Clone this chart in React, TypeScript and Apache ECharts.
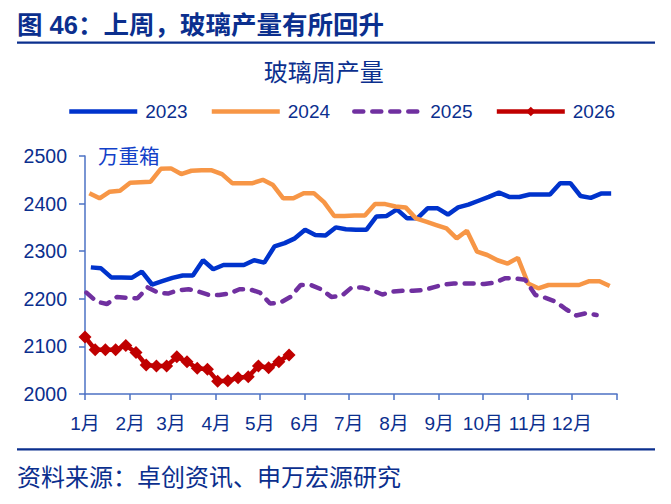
import React, { useEffect, useRef } from "react";
import * as echarts from "echarts";

// Day-of-year on which each month starts (non-leap calendar), plus year end.
const MONTH_START_DAYS = [0, 31, 59, 90, 120, 151, 181, 212, 243, 273, 304, 334, 365];
const MONTH_LABELS = ["1月", "2月", "3月", "4月", "5月", "6月", "7月", "8月", "9月", "10月", "11月", "12月"];

const SERIES_NAMES = ["2023", "2024", "2025", "2026"];

// Weekly glass output (万重箱), one value per weekly release.
// First release day of each year, counted from 1 January.
const START_DAY_2023 = 4;
const START_DAY_2024 = 3;
const START_DAY_2025 = 1;
const START_DAY_2026 = 0;

const OUTPUT_2023 = [
  2266, 2264, 2245, 2245, 2244, 2257, 2230, 2237, 2244, 2249, 2249, 2281, 2262,
  2271, 2271, 2271, 2281, 2276, 2310, 2317, 2327, 2345, 2334, 2333, 2350, 2346,
  2345, 2345, 2373, 2374, 2388, 2369, 2369, 2390, 2390, 2377, 2392, 2398, 2406,
  2414, 2423, 2414, 2414, 2419, 2419, 2419, 2443, 2443, 2416, 2412, 2421, 2421,
];

const OUTPUT_2024 = [
  2422, 2411, 2425, 2427, 2444, 2445, 2446, 2473, 2474, 2462, 2469, 2470, 2470,
  2462, 2443, 2443, 2443, 2450, 2439, 2411, 2411, 2422, 2422, 2403, 2374, 2374,
  2375, 2375, 2399, 2399, 2394, 2392, 2369, 2362, 2355, 2348, 2327, 2343, 2299,
  2292, 2281, 2274, 2286, 2232, 2222, 2229, 2229, 2229, 2229, 2237, 2237, 2227,
];

const OUTPUT_2025 = [
  2213, 2194, 2189, 2204, 2202, 2201, 2224, 2213, 2211, 2218, 2220, 2215, 2208,
  2208, 2211, 2220, 2220, 2213, 2190, 2192, 2204, 2229, 2229, 2220, 2204, 2206,
  2224, 2224, 2218, 2209, 2215, 2217, 2217, 2218, 2224, 2230, 2232, 2232, 2232,
  2231, 2234, 2243, 2243, 2240, 2208, 2202, 2194, 2178, 2165, 2170, 2166,
];

const OUTPUT_2026 = [
  2120, 2093, 2093, 2093, 2102, 2087, 2061, 2059, 2059, 2078, 2068, 2054, 2052,
  2027, 2028, 2034, 2036, 2059, 2055, 2068, 2082,
];

const Y_MIN = 2000;
const Y_MAX = 2500;
const Y_STEP = 100;

const TITLE = "图 46：上周，玻璃产量有所回升";
const CHART_TITLE = "玻璃周产量";
const UNIT = "万重箱";
const SOURCE = "资料来源：卓创资讯、申万宏源研究";

const NAVY = "#0b2f8e";
const AXIS = "#4d72c4";
const FONT = "'Liberation Sans', Arial, 'Noto Sans CJK SC', sans-serif";

const weekly = (start: number, values: number[]) =>
  values.map((v, i) => [start + 7 * i, v]);

export default function App() {
  const ref = useRef<HTMLDivElement>(null);

  useEffect(() => {
    if (!ref.current) return;
    const chart = echarts.init(ref.current, undefined, { renderer: "svg" });

    // Legend entries: plain strokes for the three line-only years,
    // stroke with a diamond for the current year.
    const legendData = SERIES_NAMES.map((name) =>
      name === "2026"
        ? { name, itemStyle: { opacity: 1 } }
        : { name, itemStyle: { opacity: 0 } }
    );

    const option: any = {
      animation: false,
      backgroundColor: "#ffffff",
      textStyle: { fontFamily: FONT },
      grid: { left: 85, right: 54, top: 156, bottom: 110, containLabel: false },
      legend: {
        data: legendData,
        left: 67,
        top: 102,
        padding: 0,
        itemWidth: 68,
        itemHeight: 12,
        itemGap: 22,
        lineStyle: { width: 4.5 },
        textStyle: {
          fontSize: 19,
          color: NAVY,
          fontFamily: FONT,
          padding: [0, 0, 0, 3],
        },
      },
      xAxis: {
        type: "value",
        min: 0,
        max: 365,
        axisLine: { show: true, lineStyle: { color: AXIS, width: 1.5 } },
        axisTick: {
          show: true,
          length: 6,
          customValues: MONTH_START_DAYS,
          lineStyle: { color: AXIS, width: 1.5 },
        },
        axisLabel: {
          customValues: MONTH_START_DAYS.slice(0, 12),
          formatter: (v: number) => MONTH_LABELS[MONTH_START_DAYS.indexOf(v)] ?? "",
          fontSize: 19,
          color: NAVY,
          fontFamily: FONT,
          margin: 20,
        },
        splitLine: { show: false },
      },
      yAxis: {
        type: "value",
        min: Y_MIN,
        max: Y_MAX,
        interval: Y_STEP,
        axisLine: { show: true, lineStyle: { color: AXIS, width: 1.5 } },
        axisTick: { show: true, length: 6, lineStyle: { color: AXIS, width: 1.5 } },
        axisLabel: {
          formatter: (v: number) => String(v),
          fontSize: 19.5,
          color: NAVY,
          fontFamily: FONT,
          margin: 18,
        },
        splitLine: { show: false },
      },
      series: [
        {
          name: "2023",
          type: "line",
          data: weekly(START_DAY_2023, OUTPUT_2023),
          symbol: "none",
          color: "#0033CC",
          lineStyle: { color: "#0033CC", width: 4.5 },
        },
        {
          name: "2024",
          type: "line",
          data: weekly(START_DAY_2024, OUTPUT_2024),
          symbol: "none",
          color: "#F79646",
          lineStyle: { color: "#F79646", width: 4.5 },
        },
        {
          name: "2025",
          type: "line",
          data: weekly(START_DAY_2025, OUTPUT_2025),
          symbol: "none",
          color: "#7030A0",
          lineStyle: { color: "#7030A0", width: 4.5, type: [9, 9], cap: "round" },
        },
        {
          name: "2026",
          type: "line",
          data: weekly(START_DAY_2026, OUTPUT_2026),
          symbol: "diamond",
          symbolSize: 13,
          showSymbol: true,
          color: "#C00000",
          itemStyle: { color: "#C00000" },
          lineStyle: { color: "#C00000", width: 4.5 },
        },
      ],
      graphic: [
        {
          type: "text",
          x: 17,
          y: 25,
          style: {
            text: TITLE,
            fill: NAVY,
            font: `bold 25.5px ${FONT}`,
            align: "left",
            verticalAlign: "middle",
          },
        },
        {
          type: "line",
          shape: { x1: 17, y1: 42.7, x2: 655, y2: 42.7 },
          style: { stroke: NAVY, lineWidth: 2.2 },
        },
        {
          type: "text",
          x: 323.7,
          y: 72.5,
          style: {
            text: CHART_TITLE,
            fill: NAVY,
            font: `24px ${FONT}`,
            align: "center",
            verticalAlign: "middle",
          },
        },
        {
          type: "text",
          x: 98,
          y: 156,
          style: {
            text: UNIT,
            fill: "#1240c8",
            font: `20.5px ${FONT}`,
            align: "left",
            verticalAlign: "middle",
          },
        },
        {
          type: "line",
          shape: { x1: 17, y1: 449.3, x2: 655, y2: 449.3 },
          style: { stroke: NAVY, lineWidth: 2.2 },
        },
        {
          type: "text",
          x: 17,
          y: 477,
          style: {
            text: SOURCE,
            fill: NAVY,
            font: `24px ${FONT}`,
            align: "left",
            verticalAlign: "middle",
          },
        },
      ],
    };

    chart.setOption(option);
    return () => chart.dispose();
  }, []);

  return (
    <div
      ref={ref}
      style={{ position: "absolute", left: 0, top: 0, width: 671, height: 504 }}
    />
  );
}
